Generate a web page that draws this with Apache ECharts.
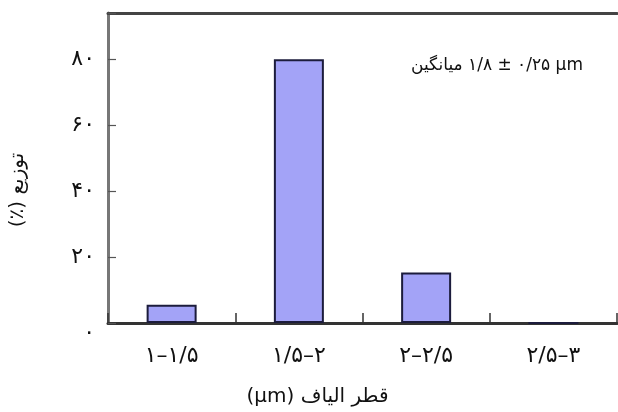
<!DOCTYPE html>
<html>
<head>
<meta charset="utf-8">
<script src="https://cdn.jsdelivr.net/npm/echarts@6/dist/echarts.min.js"></script>
<style>
  html, body { margin: 0; padding: 0; background: #fff; }
  #chart { width: 618px; height: 412px; }
</style>
</head>
<body>
<div id="chart"></div>
<script>
// Fibre diameter classes and their share of the sample (%)
const categories = ['۱–۱/۵', '۱/۵–۲', '۲–۲/۵', '۲/۵–۳'];
const distribution = [5.5, 80, 15.3, 0];

// Value axis ticks and their Persian labels
const yTickValues = [0, 20, 40, 60, 80];
const yTickLabels = ['۰', '۲۰', '۴۰', '۶۰', '۸۰'];

// Texts (written in visual order for a left-to-right canvas)
const xAxisTitle = '(µm) قطر الیاف';
const yAxisTitle = '(٪) توزیع';
const meanNote = 'میانگین \u200E۱/۸ ± ۰/۲۵ µm';

const FONT = '"DejaVu Sans", "Noto Sans", sans-serif';

const chart = echarts.init(document.getElementById('chart'), null, { renderer: 'canvas' });

chart.setOption({
  animation: false,
  backgroundColor: '#ffffff',
  grid: { left: 100, right: 1, top: 13, bottom: 77, containLabel: false },
  xAxis: [
    {
      type: 'category',
      data: categories,
      position: 'bottom',
      axisLine: { lineStyle: { color: '#333', width: 3 } },
      axisTick: { show: true, inside: true, length: 10, lineStyle: { color: '#333', width: 1.5 } },
      axisLabel: { margin: 22, fontFamily: FONT, fontSize: 22, color: '#111' },
      name: xAxisTitle,
      nameLocation: 'middle',
      nameGap: 64,
      nameTextStyle: { fontFamily: FONT, fontSize: 20, color: '#111', padding: [0, 90, 0, 0] }
    },
    {
      // frame line along the top of the plot
      type: 'category',
      data: categories,
      position: 'top',
      axisLine: { lineStyle: { color: '#444', width: 3 } },
      axisTick: { show: false },
      axisLabel: { show: false }
    }
  ],
  yAxis: {
    type: 'value',
    min: 0,
    max: 94,
    interval: 20,
    axisLine: { show: true, lineStyle: { color: '#777', width: 3 } },
    axisTick: { show: true, inside: true, length: 8, lineStyle: { color: '#555', width: 1.2 } },
    splitLine: { show: false },
    axisLabel: {
      margin: 13,
      fontFamily: FONT,
      fontSize: 22,
      color: '#111',
      formatter: function (v) {
        const i = yTickValues.indexOf(v);
        if (i < 0) return '';
        // the zero label sits a little below the baseline
        return v === 0 ? '{low|' + yTickLabels[i] + '}' : yTickLabels[i];
      },
      rich: {
        low: { fontFamily: FONT, fontSize: 22, color: '#111', padding: [20, 0, 0, 0] }
      }
    },
    name: yAxisTitle,
    nameLocation: 'middle',
    nameRotate: 90,
    nameGap: 80,
    nameTextStyle: { fontFamily: FONT, fontSize: 20, color: '#111', padding: [0, 44, 0, 0] }
  },
  series: [
    {
      type: 'bar',
      xAxisIndex: 0,
      data: distribution,
      barWidth: 50,
      itemStyle: { color: '#a3a3f7', borderColor: '#1c1c3c', borderWidth: 2 }
    }
  ],
  graphic: [
    {
      type: 'text',
      right: 35,
      top: 57,
      style: { text: meanNote, fontFamily: FONT, fontSize: 17, fill: '#111' }
    }
  ]
});
</script>
</body>
</html>
